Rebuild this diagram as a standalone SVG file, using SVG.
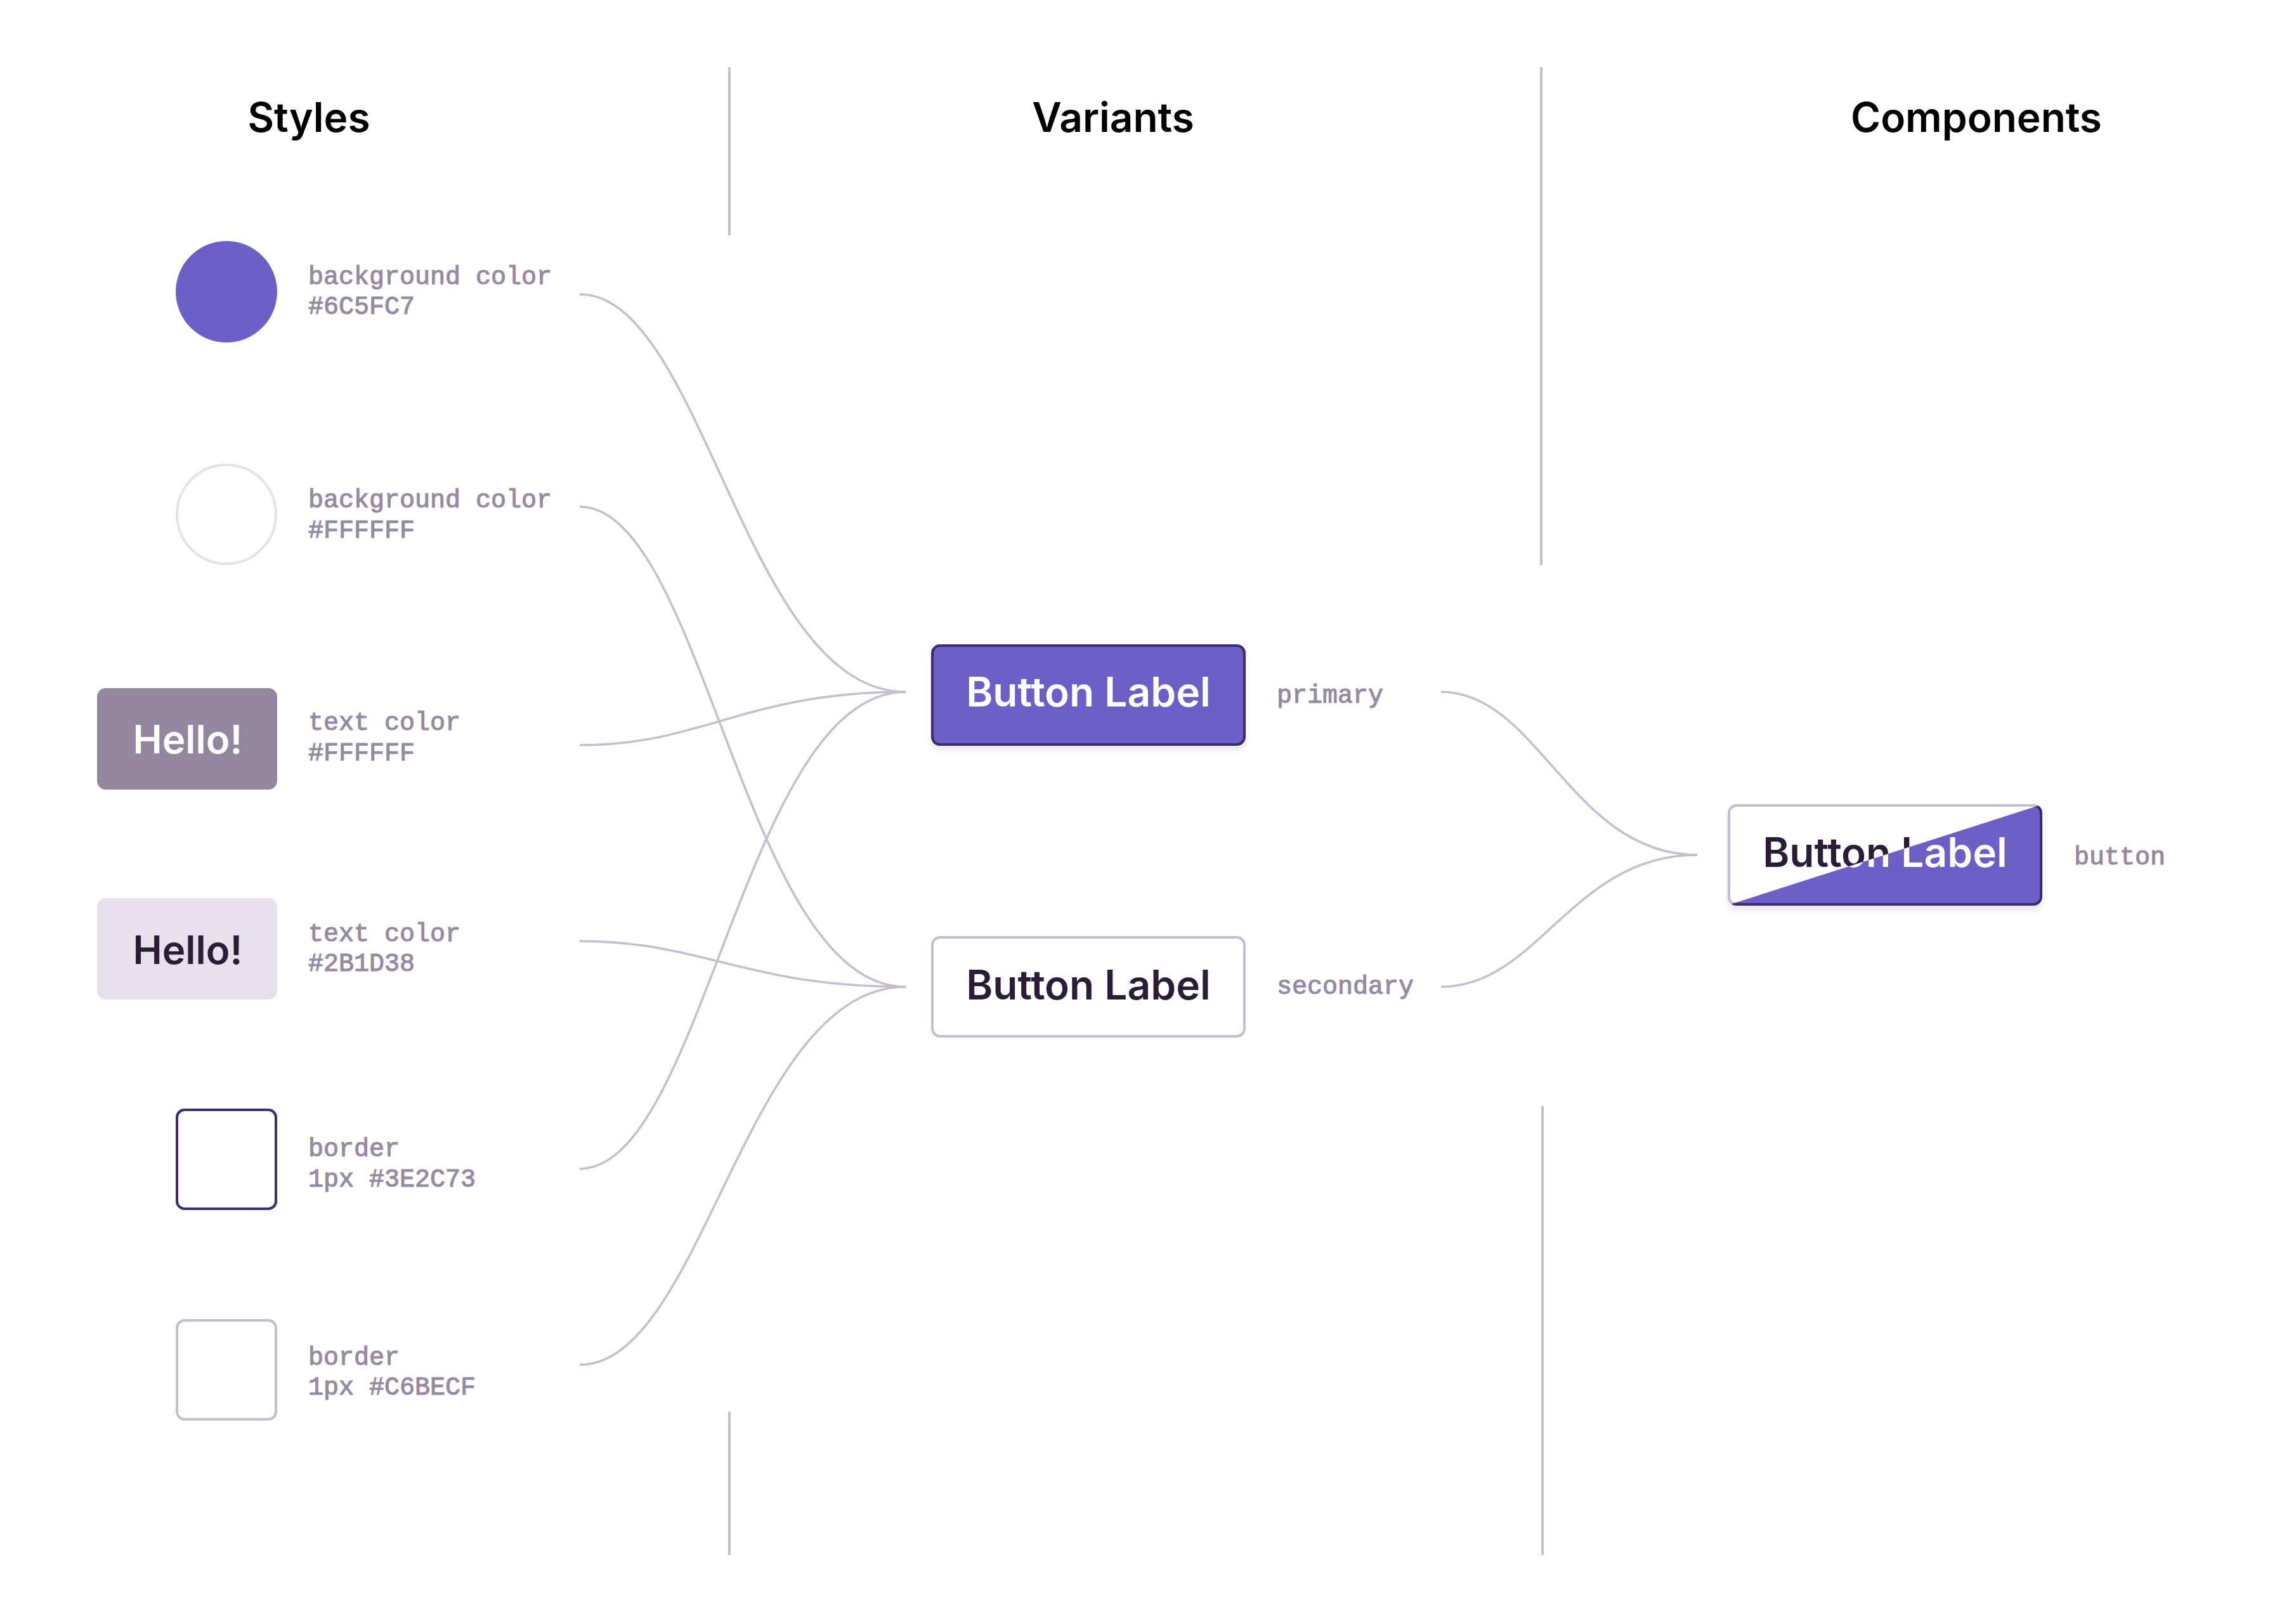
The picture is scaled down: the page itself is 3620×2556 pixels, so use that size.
<svg xmlns="http://www.w3.org/2000/svg" width="3620" height="2556" viewBox="0 0 3620 2556">
<style>
  .hdr { font-family: Inter, "Liberation Sans", sans-serif; font-weight: 600; font-size: 64px; fill: #000; text-anchor: middle; }
  .lbl { font-family: "Liberation Mono", "DejaVu Sans Mono", monospace; font-size: 40px; fill: #958AA5; stroke: #958AA5; stroke-width: 1.1px; }
  .btn { font-family: Inter, "Liberation Sans", sans-serif; font-weight: 600; font-size: 64px; text-anchor: middle; }
  .hello { font-family: Inter, "Liberation Sans", sans-serif; font-weight: 600; font-size: 62px; text-anchor: middle; }
  .div { stroke: #C6BECF; stroke-width: 4; fill: none; }
  .conn path { fill: none; stroke: #C6BECF; stroke-width: 3.5; }
</style>
<defs>
  <filter id="shadow" x="-10%" y="-20%" width="120%" height="150%">
    <feDropShadow dx="0" dy="7" stdDeviation="4" flood-color="#2B1D38" flood-opacity="0.10"/>
  </filter>
  <clipPath id="diag">
    <polygon points="2700,1435 3240,1262 3240,1470 2700,1470"/>
  </clipPath>
</defs>
<rect width="3620" height="2556" fill="#fff"/>

<g id="headers">
  <text class="hdr" x="487" y="208">Styles</text>
  <text class="hdr" x="1755" y="208">Variants</text>
  <text class="hdr" x="3116" y="208">Components</text>
</g>

<g id="dividers">
  <line class="div" x1="1150" y1="106" x2="1150" y2="371"/>
  <line class="div" x1="1150" y1="2226" x2="1150" y2="2452"/>
  <line class="div" x1="2430" y1="106" x2="2430" y2="891"/>
  <line class="div" x1="2432" y1="1744" x2="2432" y2="2452"/>
</g>

<g id="connectors" class="conn">
  <path d="M914,464 C1109,464 1175,1091 1428,1091"/>
  <path d="M914,799 C1109,799 1175,1556 1428,1556"/>
  <path d="M914,1175 C1109,1175 1175,1091 1428,1091"/>
  <path d="M914,1484 C1109,1484 1175,1556 1428,1556"/>
  <path d="M914,1843 C1109,1843 1175,1091 1428,1091"/>
  <path d="M914,2152 C1109,2152 1175,1556 1428,1556"/>
  <path d="M2272,1091 C2426,1091 2478,1348 2676,1348"/>
  <path d="M2272,1556 C2426,1556 2478,1348 2676,1348"/>
</g>

<g id="style-bg-purple">
  <circle cx="357" cy="460" r="80" fill="#6C5FC7"/>
  <text class="lbl" x="486" y="448">background color</text>
  <text class="lbl" x="486" y="495">#6C5FC7</text>
</g>
<g id="style-bg-white">
  <circle cx="357" cy="811" r="78" fill="#fff" stroke="#E6E1EB" stroke-width="4"/>
  <text class="lbl" x="486" y="800">background color</text>
  <text class="lbl" x="486" y="848">#FFFFFF</text>
</g>
<g id="style-text-white">
  <rect x="153" y="1085" width="284" height="160" rx="14" fill="#93869F"/>
  <text class="hello" x="296" y="1188" fill="#fff">Hello!</text>
  <text class="lbl" x="486" y="1151">text color</text>
  <text class="lbl" x="486" y="1199">#FFFFFF</text>
</g>
<g id="style-text-dark">
  <rect x="153" y="1416" width="284" height="160" rx="14" fill="#E6E1EB"/>
  <text class="hello" x="296" y="1520" fill="#2B1D38">Hello!</text>
  <text class="lbl" x="486" y="1484">text color</text>
  <text class="lbl" x="486" y="1531">#2B1D38</text>
</g>
<g id="style-border-dark">
  <rect x="279" y="1750" width="156" height="156" rx="12" fill="#fff" stroke="#3E2C73" stroke-width="4"/>
  <text class="lbl" x="486" y="1823">border</text>
  <text class="lbl" x="486" y="1871">1px #3E2C73</text>
</g>
<g id="style-border-light">
  <rect x="279" y="2082" width="156" height="156" rx="12" fill="#fff" stroke="#C6BECF" stroke-width="4"/>
  <text class="lbl" x="486" y="2152">border</text>
  <text class="lbl" x="486" y="2199">1px #C6BECF</text>
</g>

<g id="variant-primary">
  <rect x="1470" y="1018" width="492" height="156" rx="12" fill="#6C5FC7" stroke="#3E2C73" stroke-width="4" filter="url(#shadow)"/>
  <text class="btn" x="1716" y="1114" fill="#fff">Button Label</text>
  <text class="lbl" x="2013" y="1108">primary</text>
</g>
<g id="variant-secondary">
  <rect x="1470" y="1478" width="492" height="156" rx="12" fill="#fff" stroke="#C6BECF" stroke-width="4"/>
  <text class="btn" x="1716" y="1576" fill="#2B1D38">Button Label</text>
  <text class="lbl" x="2013" y="1567">secondary</text>
</g>

<g id="component-button">
  <g filter="url(#shadow)">
    <rect x="2726" y="1270" width="492" height="156" rx="12" fill="#fff" stroke="#C6BECF" stroke-width="4"/>
    <g clip-path="url(#diag)">
      <rect x="2726" y="1270" width="492" height="156" rx="12" fill="#6C5FC7" stroke="#3E2C73" stroke-width="4"/>
    </g>
  </g>
  <text class="btn" x="2972" y="1367" fill="#2B1D38">Button Label</text>
  <g clip-path="url(#diag)">
    <text class="btn" x="2972" y="1367" fill="#fff">Button Label</text>
  </g>
  <text class="lbl" x="3270" y="1363">button</text>
</g>
</svg>
